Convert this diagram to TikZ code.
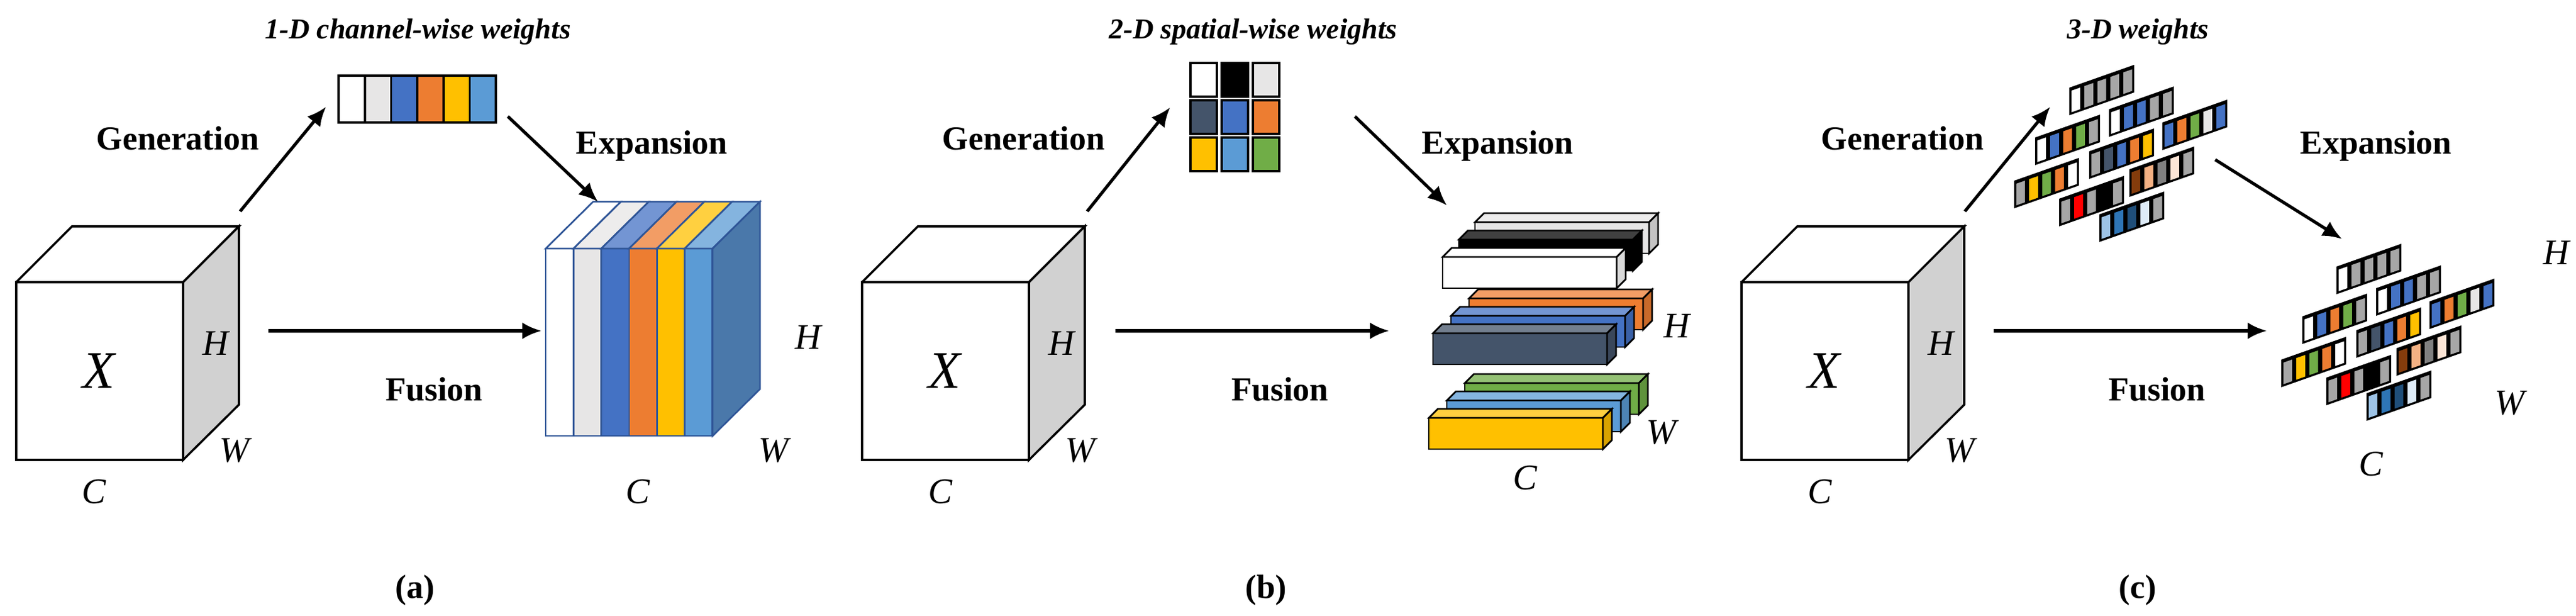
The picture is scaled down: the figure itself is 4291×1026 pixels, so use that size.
\documentclass[tikz,border=0pt]{standalone}
\usepackage{fontspec}
\setmainfont{Liberation Serif}
\usetikzlibrary{arrows.meta}

\definecolor{lgray}{HTML}{E7E6E6}
\definecolor{mgray}{HTML}{A6A6A6}
\definecolor{dgray}{HTML}{808080}
\definecolor{cblue}{HTML}{4472C4}
\definecolor{corange}{HTML}{ED7D31}
\definecolor{cgold}{HTML}{FFC000}
\definecolor{clblue}{HTML}{5B9BD5}
\definecolor{cgreen}{HTML}{70AD47}
\definecolor{cslate}{HTML}{44546A}
\definecolor{cside}{HTML}{4A78AA}
\definecolor{cedge}{HTML}{2F5597}
\definecolor{cbrown}{HTML}{843C0C}
\definecolor{cpeach}{HTML}{F4B183}
\definecolor{cpale}{HTML}{FBE5D6}
\definecolor{cred}{HTML}{FF0000}
\definecolor{cskyl}{HTML}{9DC3E6}
\definecolor{cblued}{HTML}{2E75B6}
\definecolor{cnavy}{HTML}{1F4E79}
\definecolor{cice}{HTML}{DEEBF7}

\tikzset{
  flow/.style={line width=1.3pt,-{Latex[length=8pt,width=7pt]}},
  stage/.style={font=\fontsize{14}{16}\selectfont\bfseries},
  title/.style={font=\fontsize{12}{14}\selectfont\bfseries\itshape},
  dim/.style={font=\fontsize{15}{17}\selectfont\itshape},
  sub/.style={font=\fontsize{14}{16}\selectfont\bfseries},
}

% input tensor X
\newcommand\tensorX{%
  \draw[line width=0.9pt] (0,470) rectangle (278,766);
  \draw[line width=0.9pt] (0,470) -- (93,377) -- (371,377) -- (278,470);
  \draw[line width=0.9pt,fill=black!18] (278,470) -- (371,377) -- (371,674) -- (278,766) -- cycle;
  \node[font=\fontsize{22}{24}\selectfont\itshape] at (137,618) {X};
  \node[dim] at (332,572) {H};
  \node[dim] at (363,750) {W};
  \node[dim] at (130,819) {C};}

% one bar of panel (b)
\newcommand\slab[3]{%
  \draw[line width=0.7pt,fill=#3] (#1,#2) rectangle ++(290,-52);
  \draw[line width=0.7pt,fill=#3!75!white] (#1,#2-52) -- ++(15,-15) -- ++(290,0) -- ++(-15,15) -- cycle;
  \draw[line width=0.7pt,fill=#3!85!black] (#1+290,#2) -- ++(15,-15) -- ++(0,-52) -- ++(-15,15) -- cycle;}

% one strip of 3-D weights
\newcommand\wstrip[3]{%
  \fill (#1,#2) -- ++(108,-38) -- ++(0,-46) -- ++(-108,38) -- cycle;
  \foreach \c [count=\i from 0] in {#3}
    \fill[\c] ({#1+21.6*\i+3.5},{#2-7.6*\i-5}) -- ++(14.6,-5.1) -- ++(0,-36) -- ++(-14.6,5.1) -- cycle;}

\newcommand\wgroup{%
  \wstrip{3447}{192}{white,mgray,mgray,mgray,mgray}
  \wstrip{3513}{228}{white,cblue,cblue,mgray,mgray}
  \wstrip{3602}{250}{cblue,corange,cgreen,lgray,cblue}
  \wstrip{3390}{275}{white,cblue,corange,cgreen,mgray}
  \wstrip{3480}{298}{mgray,cslate,cblue,corange,cgold}
  \wstrip{3355}{347}{mgray,cgold,cgreen,corange,white}
  \wstrip{3547}{328}{cbrown,cpeach,dgray,cpale,mgray}
  \wstrip{3430}{377}{mgray,cred,mgray,black,mgray}
  \wstrip{3497}{403}{cskyl,cblued,cnavy,cice,mgray}}

\begin{document}
\begin{tikzpicture}[x=0.25pt,y=-0.25pt]
\useasboundingbox (0,0) rectangle (4291,1026);

%%% panel (a)
\begin{scope}[xshift=27*0.25pt]
  \tensorX
\end{scope}
\foreach \c [count=\i from 0] in {white,lgray,cblue,corange,cgold,clblue}
  \draw[line width=0.9pt,fill=\c] (564+43.7*\i,126) rectangle ++(43.7,78);
\draw[line width=1.2pt] (564,126) rectangle (826,204);
% expanded block
\foreach \c [count=\i from 0] in {white,lgray,cblue,corange,cgold,clblue}{
  \draw[cedge,line width=0.7pt,fill=\c] (909+46.3*\i,414) rectangle ++(46.3,312);
  \draw[cedge,line width=0.7pt,fill=\c!75!white] (909+46.3*\i,414) -- ++(79,-78) -- ++(46.3,0) -- ++(-79,78) -- cycle;}
\draw[cedge,line width=0.7pt,fill=cside] (1187,414) -- (1266,336) -- (1266,648) -- (1187,726) -- cycle;
\node[title] (ttla) at (696,53) {1-D channel-wise weights};
\node[stage] (gena) at (296,230) {Generation};
\node[stage] (expa) at (1086,243) {Expansion};
\node[stage] (fusa) at (723,648) {Fusion};
\node[dim] at (1346,562) {H};
\node[dim] at (1288,750) {W};
\node[dim] at (1062,819) {C};
\node[sub] (suba) at (691,983) {(a)};
\coordinate (ga0) at (400,352); \coordinate (ga1) at (543,178);
\coordinate (ea0) at (846,194); \coordinate (ea1) at (996,336);
\coordinate (fa0) at (447,551); \coordinate (fa1) at (902,551);
\draw[flow] (ga0) -- (ga1);
\draw[flow] (ea0) -- (ea1);
\draw[flow] (fa0) -- (fa1);

%%% panel (b)
\begin{scope}[xshift=1436*0.25pt]
  \tensorX
\end{scope}
\foreach \c [count=\i from 0] in {white,black,lgray,cslate,cblue,corange,cgold,clblue,cgreen}{
  \pgfmathsetmacro\gx{1983+52*mod(\i,3)}
  \pgfmathsetmacro\gy{105+62*int(\i/3)}
  \draw[line width=1.2pt,fill=\c] (\gx,\gy) rectangle ++(44,56);}
\slab{2457}{422}{lgray}
\slab{2430}{451}{black}
\slab{2403}{480}{white}
\slab{2447}{549}{corange}
\slab{2417}{578}{cblue}
\slab{2387}{607}{cslate}
\slab{2440}{690}{cgreen}
\slab{2410}{719}{clblue}
\slab{2380}{748}{cgold}
\node[title] (ttlb) at (2087,53) {2-D spatial-wise weights};
\node[stage] (genb) at (1705,230) {Generation};
\node[stage] (expb) at (2495,243) {Expansion};
\node[stage] (fusb) at (2132,648) {Fusion};
\node[dim] at (2793,543) {H};
\node[dim] at (2767,720) {W};
\node[dim] at (2540,796) {C};
\node[sub] (subb) at (2109,983) {(b)};
\coordinate (gb0) at (1811,352); \coordinate (gb1) at (1949,179);
\coordinate (eb0) at (2257,194); \coordinate (eb1) at (2410,342);
\coordinate (fb0) at (1858,551); \coordinate (fb1) at (2314,551);
\draw[flow] (gb0) -- (gb1);
\draw[flow] (eb0) -- (eb1);
\draw[flow] (fb0) -- (fb1);

%%% panel (c)
\begin{scope}[xshift=2901*0.25pt]
  \tensorX
\end{scope}
\wgroup
\begin{scope}[shift={(445,298)}]
  \wgroup
\end{scope}
\node[title] (ttlc) at (3561,53) {3-D weights};
\node[stage] (genc) at (3169,230) {Generation};
\node[stage] (expc) at (3958,243) {Expansion};
\node[stage] (fusc) at (3593,648) {Fusion};
\node[dim] at (4258,421) {H};
\node[dim] at (4180,671) {W};
\node[dim] at (3949,773) {C};
\node[sub] (subc) at (3561,983) {(c)};
\coordinate (gc0) at (3273,352); \coordinate (gc1) at (3415,178);
\coordinate (ec0) at (3690,266); \coordinate (ec1) at (3901,398);
\coordinate (fc0) at (3321,551); \coordinate (fc1) at (3776,551);
\draw[flow] (gc0) -- (gc1);
\draw[flow] (ec0) -- (ec1);
\draw[flow] (fc0) -- (fc1);
\end{tikzpicture}
\end{document}
